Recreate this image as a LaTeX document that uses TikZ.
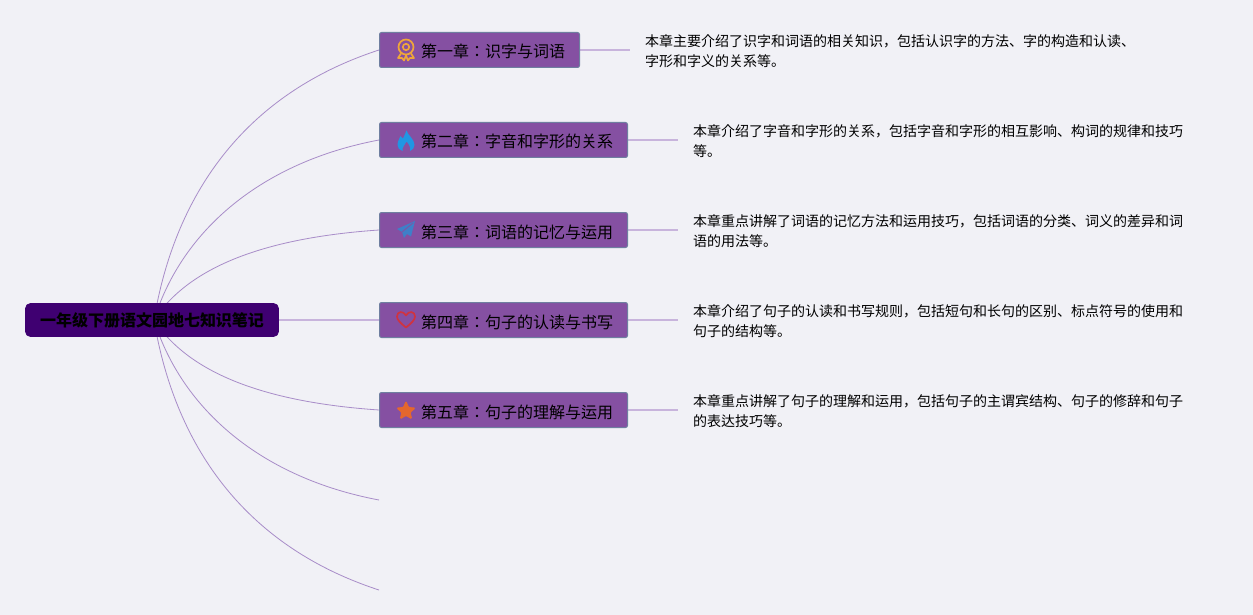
\documentclass[tikz,border=0pt]{standalone}
\usepackage{fontspec}
\setmainfont{Noto Sans CJK JP}
\usetikzlibrary{backgrounds,shapes.geometric}
\definecolor{bgc}{HTML}{F1F1F6}
\definecolor{rootc}{HTML}{3F0071}
\definecolor{boxc}{HTML}{8550A2}
\definecolor{boxb}{HTML}{6F7FA0}
\definecolor{curvec}{HTML}{A88CC8}
\definecolor{linkc}{HTML}{C8B4DC}
\definecolor{medalc}{HTML}{EFA63A}
\definecolor{flamec}{HTML}{2196E3}
\definecolor{planec}{HTML}{3F7FC8}
\definecolor{heartc}{HTML}{D0333F}
\definecolor{starc}{HTML}{E4672E}
\tikzset{
  x=1pt,y=-1pt,
  rootbox/.style={draw=rootc,fill=rootc,rounded corners=5pt,line width=.8pt,minimum height=33pt,minimum width=253pt,inner sep=0pt,font=\fontsize{16pt}{20pt}\selectfont\bfseries,text=black},
  chapter/.style={draw=boxb,fill=boxc,rounded corners=2pt,line width=1pt,minimum height=35pt,inner xsep=14.5pt,inner ysep=0pt,text height=16pt,text depth=0pt,font=\fontsize{16pt}{20pt}\selectfont,text=black,anchor=west},
  desc/.style={anchor=west,inner xsep=15pt,inner ysep=0pt,align=left,font=\fontsize{14pt}{20pt}\selectfont,text=black},
  curve/.style={draw=curvec,line width=.8pt},
  link/.style={draw=linkc,line width=1.3pt},
  medal/.pic={
    \draw[draw=medalc,line width=1.7pt] (0,-3) circle (7.5);
    \draw[draw=medalc,line width=1.7pt] (0,-3) circle (3.2);
    \draw[draw=medalc,line width=1.7pt,line join=round] (-5,3.5) -- (-8,8) -- (-4,8) -- (-2,10.5) -- (0,5.5) -- (2,10.5) -- (4,8) -- (8,8) -- (5,3.5);
  },
  flame/.pic={
    \fill[fill=flamec] (0.5,-10.5) .. controls (1.5,-6) and (8.5,-2) .. (8.5,4) .. controls (8.5,7) and (6.5,9) .. (4,10) .. controls (5,7) and (3,3) .. (0.5,0.5) .. controls (-1,4) and (-4,6) .. (-3.5,10) .. controls (-6.5,9) and (-8.5,7) .. (-8.5,4) .. controls (-8.5,0) and (-6.5,-2) .. (-5.5,-5) .. controls (-4.5,-3.5) and (-3.5,-3) .. (-3,-2.5) .. controls (-2,-5) and (-0.5,-7.5) .. (0.5,-10.5) -- cycle;
  },
  plane/.pic={
    \fill[fill=planec] (9,-9) -- (-9,-1) -- (-4,2) -- (-2,8) -- (1,4) -- (5,6.5) -- cycle;
    \draw[draw=boxc,line width=.8pt] (7,-7) -- (-4,2);
  },
  heart/.pic={
    \draw[draw=heartc,line width=1.7pt,line join=round] (0,7) .. controls (-5,3) and (-9,-0.5) .. (-9,-4) .. controls (-9,-9.5) and (-2.5,-10) .. (0,-5) .. controls (2.5,-10) and (9,-9.5) .. (9,-4) .. controls (9,-0.5) and (5,3) .. (0,7) -- cycle;
  },
  starpic/.pic={
    \node[star,star points=5,star point ratio=2.2,fill=starc,draw=starc,line width=1pt,rounded corners=1pt,minimum size=19pt,inner sep=0pt] (starmark) at (0,0) {};
  },
}
\newcommand{\chaptext}[1]{\hspace{27pt}#1}
\begin{document}
\begin{tikzpicture}
\useasboundingbox (0,0) rectangle (1253,615);

\node[rootbox] (root) at (152,320) {一年级下册语文园地七知识笔记};
\coordinate (hub) at (154,320);

\node[chapter] (c1) at (379,50) {\chaptext{第一章：识字与词语}};
\node[chapter] (c2) at (379,140) {\chaptext{第二章：字音和字形的关系}};
\node[chapter] (c3) at (379,230) {\chaptext{第三章：词语的记忆与运用}};
\node[chapter] (c4) at (379,320) {\chaptext{第四章：句子的认读与书写}};
\node[chapter] (c5) at (379,410) {\chaptext{第五章：句子的理解与运用}};
\coordinate (e6) at (379,500);
\coordinate (e7) at (379,590);

\node[desc] (d1) at (630,51.5) {本章主要介绍了识字和词语的相关知识，包括认识字的方法、字的构造和认读、\\字形和字义的关系等。};
\node[desc] (d2) at (678,141.5) {本章介绍了字音和字形的关系，包括字音和字形的相互影响、构词的规律和技巧\\等。};
\node[desc] (d3) at (678,231.5) {本章重点讲解了词语的记忆方法和运用技巧，包括词语的分类、词义的差异和词\\语的用法等。};
\node[desc] (d4) at (678,321.5) {本章介绍了句子的认读和书写规则，包括短句和长句的区别、标点符号的使用和\\句子的结构等。};
\node[desc] (d5) at (678,411.5) {本章重点讲解了句子的理解和运用，包括句子的主谓宾结构、句子的修辞和句子\\的表达技巧等。};

\pic at (406,50) {medal};
\pic at (406,141) {flame};
\pic at (406,230) {plane};
\pic at (406,320.5) {heart};
\pic at (406,411) {starpic};

\begin{pgfonlayer}{background}
\fill[bgc] (0,0) rectangle (1253,615);
\draw[curve] (hub) .. controls (176,188) and (250,92) .. (c1.west);
\draw[curve] (hub) .. controls (182,230) and (262,162) .. (c2.west);
\draw[curve] (hub) .. controls (188,268) and (262,238) .. (c3.west);
\draw[link] (root.east) -- (c4.west);
\draw[curve] (hub) .. controls (188,372) and (262,402) .. (c5.west);
\draw[curve] (hub) .. controls (182,410) and (262,478) .. (e6);
\draw[curve] (hub) .. controls (176,452) and (250,548) .. (e7);
\draw[link] (c1.east) -- (c1.east -| d1.west);
\draw[link] (c2.east) -- (c2.east -| d2.west);
\draw[link] (c3.east) -- (c3.east -| d3.west);
\draw[link] (c4.east) -- (c4.east -| d4.west);
\draw[link] (c5.east) -- (c5.east -| d5.west);
\end{pgfonlayer}
\end{tikzpicture}
\end{document}
